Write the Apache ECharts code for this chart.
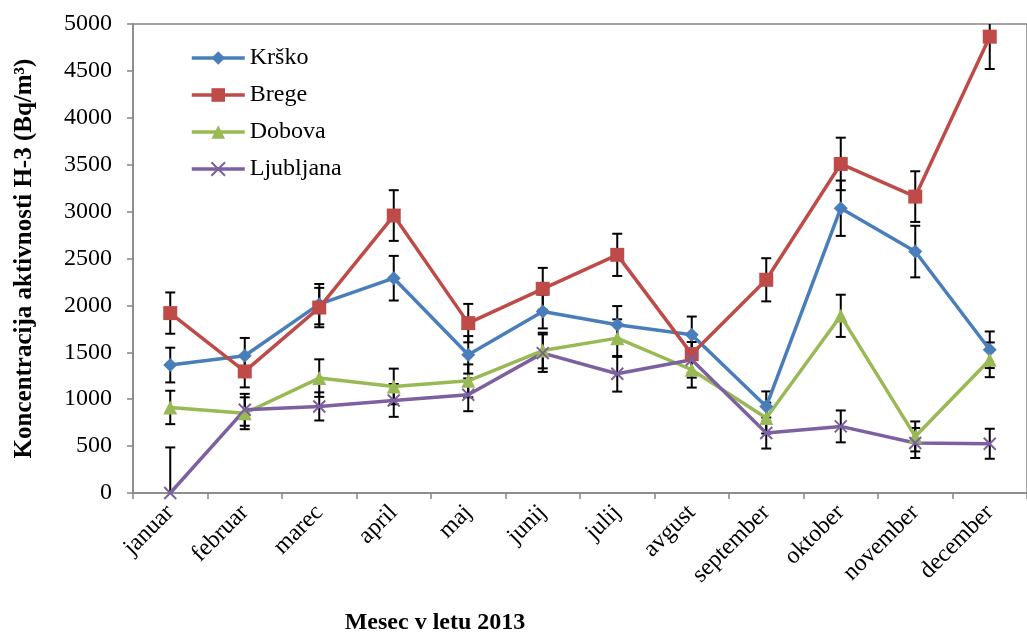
<!DOCTYPE html>
<html>
<head>
<meta charset="utf-8">
<script src="https://cdn.jsdelivr.net/npm/echarts@6/dist/echarts.min.js"></script>
<style>
html, body { margin: 0; padding: 0; background: #fff; }
#chart { width: 1027px; height: 633px; }
</style>
</head>
<body>
<div id="chart"></div>
<script>
// ==============================================================
// data
// ==============================================================
var months = ['januar', 'februar', 'marec', 'april', 'maj', 'junij', 'julij', 'avgust', 'september', 'oktober', 'november', 'december'];

var krsko     = [1364, 1463, 2013, 2290, 1473, 1935, 1793, 1686, 923, 3036, 2574, 1527];
var brege     = [1918, 1296, 1977, 2958, 1811, 2177, 2539, 1481, 2273, 3508, 3160, 4865];
var dobova    = [912, 850, 1225, 1136, 1196, 1519, 1651, 1314, 799, 1889, 603, 1420];
var ljubljana = [0, 887, 923, 987, 1047, 1491, 1271, 1420, 639, 710, 533, 525];

// +/- error
var krskoErr     = [185, 190, 215, 238, 200, 180, 200, 195, 160, 295, 275, 195];
var bregeErr     = [220, 170, 210, 270, 205, 223, 225, 200, 230, 280, 270, 345];
var dobovaErr    = [178, 170, 200, 190, 175, 190, 200, 190, 165, 225, 160, 185];
var ljubljanaErr = [486, 170, 150, 175, 175, 200, 190, 190, 165, 170, 160, 160];

var yTicks = { min: 0, max: 5000, interval: 500 };

// ==============================================================
var serif = '"Liberation Serif", "Times New Roman", serif';
var axisGray = '#868686';

function errData(vals, errs) {
    return vals.map(function (v, i) { return [i, v - errs[i], v + errs[i]]; });
}

function errSeries(vals, errs) {
    return {
        type: 'custom',
        z: 1,
        clip: true,
        silent: true,
        data: errData(vals, errs),
        renderItem: function (params, api) {
            var x = api.value(0);
            var top = api.coord([x, api.value(2)]);
            var bot = api.coord([x, api.value(1)]);
            var w = 5;
            var st = { stroke: '#000', lineWidth: 2 };
            return {
                type: 'group',
                children: [
                    { type: 'line', shape: { x1: top[0], y1: top[1], x2: bot[0], y2: bot[1] }, style: st },
                    { type: 'line', shape: { x1: top[0] - w, y1: top[1], x2: top[0] + w, y2: top[1] }, style: st },
                    { type: 'line', shape: { x1: bot[0] - w, y1: bot[1], x2: bot[0] + w, y2: bot[1] }, style: st }
                ]
            };
        }
    };
}

function lineSeries(name, vals, color, symbol, size, extra) {
    var s = {
        name: name,
        type: 'line',
        z: 3,
        data: vals,
        symbol: symbol,
        symbolSize: size,
        showAllSymbol: true,
        lineStyle: { color: color, width: 3.5 },
        itemStyle: { color: color },
        emphasis: { disabled: true }
    };
    if (extra) s.itemStyle = extra;
    return s;
}

var myChart = echarts.init(document.getElementById('chart'), null, { renderer: 'canvas' });

var option = {
    animation: false,
    color: ['#4A7EBB', '#BE4B48', '#98B954', '#7D60A0'],
    grid: {
        left: 133, top: 24, right: -13, bottom: 140,
        show: true, borderColor: axisGray, borderWidth: 1.5
    },
    legend: {
        orient: 'vertical',
        left: 190, top: 46,
        padding: 0,
        itemWidth: 53, itemHeight: 17,
        itemGap: 13,
        data: ['Krško', 'Brege', 'Dobova', 'Ljubljana'],
        lineStyle: { width: 3.5 },
        textStyle: { fontFamily: serif, fontSize: 24, color: '#000' }
    },
    xAxis: {
        type: 'category',
        data: months,
        boundaryGap: true,
        axisLine: { lineStyle: { color: axisGray, width: 1.5 } },
        axisTick: { show: true, length: 6, lineStyle: { color: axisGray, width: 1.5 } },
        axisLabel: {
            rotate: 45, margin: 16, interval: 0,
            fontFamily: serif, fontSize: 24, color: '#000'
        }
    },
    yAxis: {
        type: 'value',
        min: yTicks.min, max: yTicks.max, interval: yTicks.interval,
        name: 'Koncentracija aktivnosti H-3 (Bq/m³)',
        nameLocation: 'middle',
        nameRotate: 90,
        nameGap: 96,
        nameTextStyle: { fontFamily: serif, fontSize: 25, fontWeight: 'bold', color: '#000' },
        splitLine: { show: false },
        axisLine: { show: true, lineStyle: { color: axisGray, width: 1.5 } },
        axisTick: { show: true, length: 6, lineStyle: { color: axisGray, width: 1.5 } },
        axisLabel: {
            margin: 21, fontFamily: serif, fontSize: 24, color: '#000',
            formatter: function (v) { return String(v); }
        }
    },
    graphic: [{
        type: 'text',
        x: 435, y: 623,
        style: {
            text: 'Mesec v letu 2013',
            font: 'bold 24px ' + serif,
            fill: '#000',
            textAlign: 'center',
            textVerticalAlign: 'middle'
        }
    }],
    series: [
        errSeries(krsko, krskoErr),
        errSeries(brege, bregeErr),
        errSeries(dobova, dobovaErr),
        errSeries(ljubljana, ljubljanaErr),
        lineSeries('Krško', krsko, '#4A7EBB', 'diamond', 14),
        lineSeries('Brege', brege, '#BE4B48', 'rect', 14),
        lineSeries('Dobova', dobova, '#98B954', 'triangle', 14),
        lineSeries('Ljubljana', ljubljana, '#7D60A0', 'path://M0,0L10,10M0,10L10,0', 12,
            { color: '#7D60A0', borderColor: '#7D60A0', borderWidth: 2 })
    ]
};

myChart.setOption(option, true);
</script>
</body>
</html>
